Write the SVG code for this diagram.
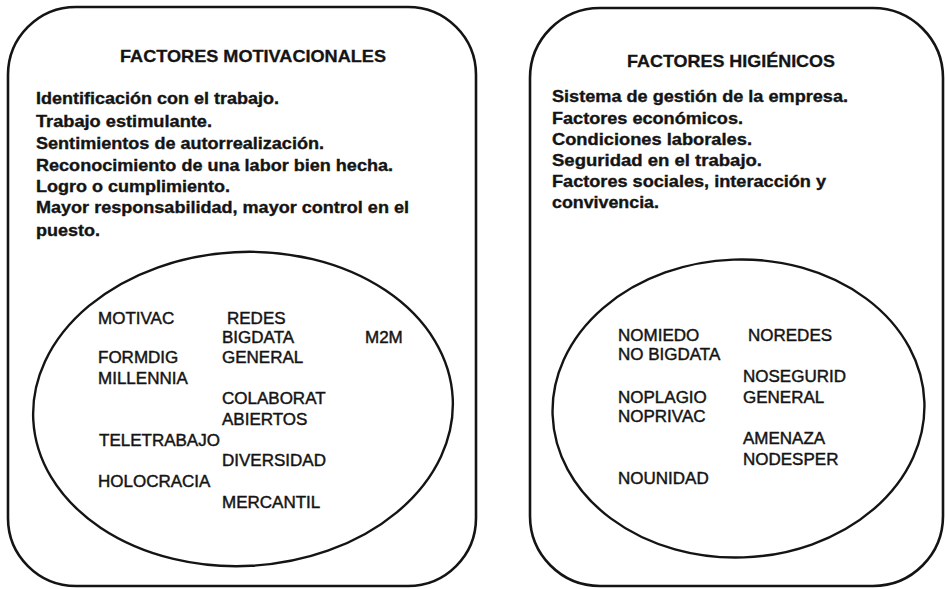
<svg xmlns="http://www.w3.org/2000/svg" width="945" height="589" viewBox="0 0 945 589">
<style>
.box{fill:#ffffff;stroke:#141414;stroke-width:2.6}
.ell{fill:none;stroke:#141414;stroke-width:2.4}
.ttl{font-family:"Liberation Sans",Arial,Helvetica,sans-serif;font-weight:bold;font-size:17px;fill:#141414;stroke:#141414;stroke-width:0.3}
.bd{font-family:"Liberation Sans",Arial,Helvetica,sans-serif;font-weight:bold;font-size:16.5px;fill:#141414;stroke:#141414;stroke-width:0.35}
.lb{font-family:"Liberation Sans",Arial,Helvetica,sans-serif;font-size:17px;fill:#141414;stroke:#141414;stroke-width:0.45}
</style>
<rect x="0" y="0" width="945" height="589" fill="#ffffff"/>
<g id="motivacionales">
<rect class="box" x="8" y="7" width="468" height="579" rx="68" ry="68"/>
<text class="ttl" x="120" y="62" textLength="266" lengthAdjust="spacingAndGlyphs">FACTORES MOTIVACIONALES</text>
<text class="bd" x="36" y="104" textLength="243" lengthAdjust="spacingAndGlyphs">Identificación con el trabajo.</text>
<text class="bd" x="36" y="127" textLength="176" lengthAdjust="spacingAndGlyphs">Trabajo estimulante.</text>
<text class="bd" x="36" y="149" textLength="288" lengthAdjust="spacingAndGlyphs">Sentimientos de autorrealización.</text>
<text class="bd" x="36" y="171" textLength="357" lengthAdjust="spacingAndGlyphs">Reconocimiento de una labor bien hecha.</text>
<text class="bd" x="36" y="192" textLength="194" lengthAdjust="spacingAndGlyphs">Logro o cumplimiento.</text>
<text class="bd" x="36" y="213" textLength="373" lengthAdjust="spacingAndGlyphs">Mayor responsabilidad, mayor control en el</text>
<text class="bd" x="36" y="236" textLength="64" lengthAdjust="spacingAndGlyphs">puesto.</text>
</g>
<g id="motivacionales-ellipse">
<ellipse class="ell" cx="243" cy="409" rx="210" ry="157" transform="rotate(-3 243 409)"/>
<text class="lb" x="98" y="324">MOTIVAC</text>
<text class="lb" x="227" y="324">REDES</text>
<text class="lb" x="222" y="343">BIGDATA</text>
<text class="lb" x="365" y="343">M2M</text>
<text class="lb" x="98" y="363">FORMDIG</text>
<text class="lb" x="222" y="363">GENERAL</text>
<text class="lb" x="98" y="384">MILLENNIA</text>
<text class="lb" x="222" y="404">COLABORAT</text>
<text class="lb" x="222" y="425">ABIERTOS</text>
<text class="lb" x="99" y="446">TELETRABAJO</text>
<text class="lb" x="222" y="466">DIVERSIDAD</text>
<text class="lb" x="98" y="487">HOLOCRACIA</text>
<text class="lb" x="222" y="508">MERCANTIL</text>
</g>
<g id="higienicos">
<rect class="box" x="530" y="8" width="413" height="578" rx="70" ry="70"/>
<text class="ttl" x="627" y="67" textLength="208" lengthAdjust="spacingAndGlyphs">FACTORES HIGIÉNICOS</text>
<text class="bd" x="552" y="102" textLength="296" lengthAdjust="spacingAndGlyphs">Sistema de gestión de la empresa.</text>
<text class="bd" x="552" y="124" textLength="191" lengthAdjust="spacingAndGlyphs">Factores económicos.</text>
<text class="bd" x="552" y="145" textLength="200" lengthAdjust="spacingAndGlyphs">Condiciones laborales.</text>
<text class="bd" x="552" y="166" textLength="210" lengthAdjust="spacingAndGlyphs">Seguridad en el trabajo.</text>
<text class="bd" x="552" y="187" textLength="274" lengthAdjust="spacingAndGlyphs">Factores sociales, interacción y</text>
<text class="bd" x="552" y="208" textLength="107" lengthAdjust="spacingAndGlyphs">convivencia.</text>
</g>
<g id="higienicos-ellipse">
<ellipse class="ell" cx="738.5" cy="408.5" rx="186" ry="149" transform="rotate(-2 738.5 408.5)"/>
<text class="lb" x="618" y="341">NOMIEDO</text>
<text class="lb" x="748" y="341">NOREDES</text>
<text class="lb" x="618" y="360">NO BIGDATA</text>
<text class="lb" x="743" y="382">NOSEGURID</text>
<text class="lb" x="618" y="403">NOPLAGIO</text>
<text class="lb" x="743" y="403">GENERAL</text>
<text class="lb" x="618" y="422">NOPRIVAC</text>
<text class="lb" x="743" y="444">AMENAZA</text>
<text class="lb" x="743" y="465">NODESPER</text>
<text class="lb" x="618" y="484">NOUNIDAD</text>
</g>
<g id="connectors"></g>
</svg>
